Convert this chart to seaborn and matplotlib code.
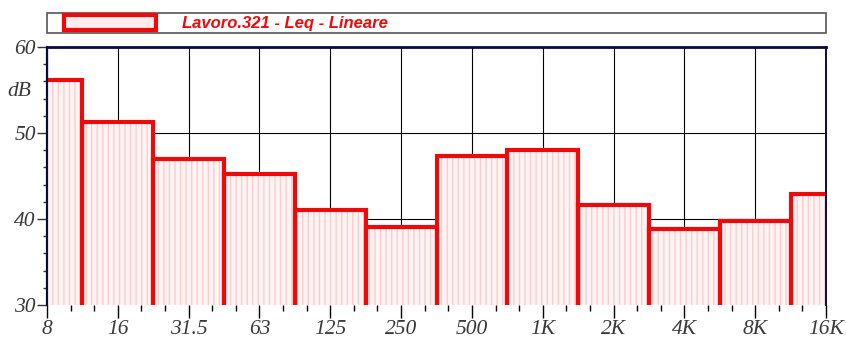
import matplotlib
matplotlib.use("Agg")
import matplotlib.pyplot as plt
import seaborn as sns
import pandas as pd
from matplotlib.ticker import MultipleLocator
from matplotlib.patches import Patch, Rectangle
from matplotlib.legend_handler import HandlerPatch
from matplotlib.font_manager import FontProperties

# ---- data ----
bands = ['8', '16', '31.5', '63', '125', '250', '500', '1K', '2K', '4K', '8K', '16K']
leq_db = [56.2, 51.3, 47.0, 45.2, 41.0, 39.1, 47.3, 48.0, 41.6, 38.8, 39.8, 42.9]
series_label = "Lavoro.321 - Leq - Lineare"
y_ticks = [30, 40, 50, 60]

df = pd.DataFrame({"band": bands, "db": leq_db})

sns.set_style("white")
plt.rcParams['font.family'] = ['Liberation Serif', 'DejaVu Serif']
plt.rcParams['hatch.linewidth'] = 1.0

RED = '#ee0a0a'
NAVY = '#0a0a40'

fig = plt.figure(figsize=(8.46, 3.45), dpi=100)
ax = fig.add_axes([47/846, 1-305/345, (826-47)/846, (305-47)/345])

# fill layer (hatched pale pink)
sns.barplot(data=df, x="band", y="db", order=bands, width=1, color='#fff4f4',
            saturation=1, edgecolor='#f9cdcd', linewidth=0, hatch='|||', ax=ax,
            zorder=2)
# outline layer (thick red)
sns.barplot(data=df, x="band", y="db", order=bands, width=1, fill=False,
            color=RED, saturation=1, linewidth=3, ax=ax, zorder=3)

ax.set_xlim(0, len(bands) - 1)
ax.set_ylim(30, 60)
ax.set_xlabel("")
ax.set_ylabel("")

ax.set_xticks(range(len(bands)))
ax.set_xticklabels(bands)
ax.xaxis.set_minor_locator(MultipleLocator(1/3))
ax.set_yticks(y_ticks)
ax.yaxis.set_minor_locator(MultipleLocator(2))

ax.set_axisbelow(True)
ax.grid(True, which='major', axis='both', color='black', linewidth=0.8, zorder=0)

tick_fp = FontProperties(family=['Liberation Serif'], style='italic', size=15.5)
for t in ax.get_xticklabels() + ax.get_yticklabels():
    t.set_fontproperties(tick_fp)
    t.set_color('#3a3a3a')

ax.tick_params(axis='x', which='both', bottom=True, top=False)
ax.tick_params(axis='y', which='both', left=True, right=False)
ax.tick_params(axis='x', which='major', direction='out', length=9, width=1,
               color='black', pad=2)
ax.tick_params(axis='x', which='minor', direction='out', length=4, width=1,
               color='black')
ax.tick_params(axis='y', which='major', direction='out', length=7, width=1,
               color='#333333', pad=1)
ax.tick_params(axis='y', which='minor', direction='out', length=3, width=1,
               color='#333333')

ax.spines['bottom'].set_visible(False)
ax.spines['top'].set_color(NAVY)
ax.spines['top'].set_linewidth(2)
ax.spines['left'].set_color(NAVY)
ax.spines['left'].set_linewidth(1.6)
ax.spines['right'].set_color(NAVY)
ax.spines['right'].set_linewidth(1.4)
for s in ax.spines.values():
    s.set_zorder(5)

ax.text(-0.035, 54.8, "dB", transform=ax.get_yaxis_transform(),
        ha='center', va='center', fontproperties=tick_fp, color='#3a3a3a')

# legend
def make_handle(legend, orig_handle, xdescent, ydescent, width, height, fontsize):
    off = 11
    return Rectangle((-xdescent + off, -ydescent), width - off, height)

handle = Patch(facecolor='#fdecec', edgecolor=RED, linewidth=3, label=series_label)
leg = ax.legend(handles=[handle], loc='lower left',
                bbox_to_anchor=(0, 1.054, 1, 0.089), mode='expand',
                borderaxespad=0, fancybox=False, shadow=False, framealpha=1,
                handlelength=6.4, handleheight=1.08, handletextpad=1.55,
                borderpad=0.12,
                handler_map={Patch: HandlerPatch(patch_func=make_handle)},
                prop=FontProperties(family=['Liberation Sans'], style='italic',
                                    weight='bold', size=12))
leg.get_frame().set_edgecolor('#555555')
leg.get_frame().set_linewidth(1.2)
for t in leg.get_texts():
    t.set_color(RED)

fig.savefig("out.png", dpi=100)
